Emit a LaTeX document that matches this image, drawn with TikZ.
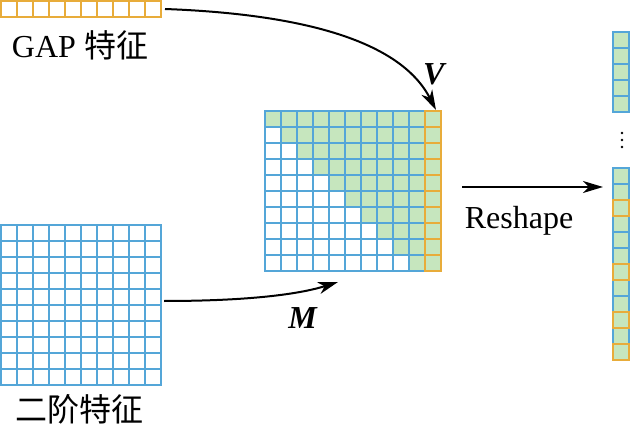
\documentclass[tikz,border=0pt]{standalone}
\usepackage{fontspec}
\setmainfont{Liberation Serif}
\newfontfamily\cjk{Noto Sans CJK SC}
\usetikzlibrary{arrows.meta}
\definecolor{cblue}{RGB}{84,166,216}
\definecolor{corange}{RGB}{232,172,58}
\definecolor{cgreen}{RGB}{198,230,190}
\tikzset{
  bcell/.style={draw=cblue, line width=2pt},
  ocell/.style={draw=corange, line width=2pt},
  gfill/.style={fill=cgreen},
  arr/.style={line width=2pt, -{Stealth[length=20pt,width=12pt,inset=6pt]}},
  lbl/.style={font=\fontsize{32}{38}\selectfont, inner sep=0, anchor=base},
  blockbox/.style={inner sep=0, outer sep=0, draw=none}
}
\begin{document}
\begin{tikzpicture}[x=1pt,y=-1pt]
\useasboundingbox (0,0) rectangle (634,430);
\def\s{16}
% block nodes (invisible) used for connectors
\node[blockbox, minimum width=160pt, minimum height=16pt] (gapbar) at (81,9) {};
\node[blockbox, minimum width=160pt, minimum height=160pt] (second) at (81,305) {};
\node[blockbox, minimum width=176pt, minimum height=160pt] (mid) at (353,191) {};
\node[blockbox, minimum width=16pt, minimum height=192pt] (colbot) at (621,264) {};
% GAP bar
\foreach \i in {0,...,9} \draw[ocell] (1+\i*\s,1) rectangle ++(\s,\s);
% second-order matrix
\foreach \i in {0,...,9} \foreach \j in {0,...,9}
  \draw[bcell] (1+\i*\s,225+\j*\s) rectangle ++(\s,\s);
% middle matrix
\foreach \r in {0,...,9} \foreach \c in {0,...,9} {
  \ifnum\c<\r
    \draw[bcell, fill=white] (265+\c*\s,111+\r*\s) rectangle ++(\s,\s);
  \else
    \draw[bcell, gfill] (265+\c*\s,111+\r*\s) rectangle ++(\s,\s);
  \fi
}
\foreach \r in {0,...,9}
  \draw[ocell, gfill] (265+10*\s,111+\r*\s) rectangle ++(\s,\s);
% right column top
\foreach \r in {0,...,4}
  \draw[bcell, gfill] (613,32+\r*\s) rectangle ++(\s,\s);
% dots
\foreach \y in {133,140,147} \fill (622,\y) circle (1.3pt);
% right column bottom
\foreach \r in {0,1,3,4,5,7,8,10}
  \draw[bcell, gfill] (613,168+\r*\s) rectangle ++(\s,\s);
\foreach \r in {2,6,9,11}
  \draw[ocell, gfill] (613,168+\r*\s) rectangle ++(\s,\s);
% labels
\node[lbl] (gaplbl) at (80,58) {GAP {\cjk 特征}};
\node[lbl] (seclbl) at (80,421) {\cjk 二阶特征};
\node[lbl] (vlbl) at (435,85) {\textbf{\textit{V}}};
\node[lbl] (mlbl) at (303,328) {\textbf{\textit{M}}};
\node[lbl] (rlbl) at (519,229) {Reshape};
% connector end points
\coordinate (vstart) at ([xshift=4pt]gapbar.east);
\coordinate (vend) at ([xshift=-5pt,yshift=1pt]mid.north east);
\coordinate (mstart) at ([xshift=3pt,yshift=4pt]second.east);
\coordinate (mend) at (338,282);
\coordinate (rstart) at (462,187);
\coordinate (rend) at ([xshift=-10pt]colbot.north west |- 0,187);
% connectors
\draw[arr] (vstart) .. controls (300,14) and (400,40) .. (vend);
\draw[arr] (mstart) .. controls (250,301) and (300,294) .. (mend);
\draw[arr] (rstart) -- (rend);
\end{tikzpicture}
\end{document}
